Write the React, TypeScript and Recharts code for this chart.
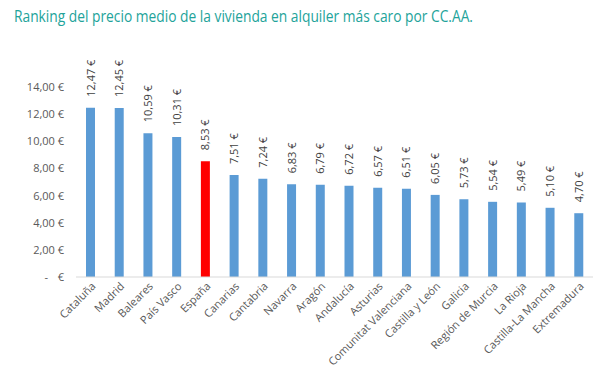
import React from "react";
import { BarChart, Bar, XAxis, YAxis, Cell, LabelList } from "recharts";

const regions = [
  "Cataluña", "Madrid", "Baleares", "País Vasco", "España", "Canarias", "Cantabria",
  "Navarra", "Aragón", "Andalucía", "Asturias", "Comunitat Valenciana", "Castilla y León",
  "Galicia", "Región de Murcia", "La Rioja", "Castilla-La Mancha", "Extremadura",
];
const prices = [12.47, 12.45, 10.59, 10.31, 8.53, 7.51, 7.24, 6.83, 6.79, 6.72, 6.57, 6.51, 6.05, 5.73, 5.54, 5.49, 5.1, 4.7];
const highlight = "España";
const yTicks = [0, 2, 4, 6, 8, 10, 12, 14];
const title = "Ranking del precio medio de la vivienda en alquiler más caro por CC.AA.";

const data = regions.map((r, i) => ({ name: r, value: prices[i] }));

const fmt = (v: number) => v.toFixed(2).replace(".", ",") + " €";
const FONT = "'Open Sans', sans-serif";

const YTick = (props: any) => {
  const { x, y, payload } = props;
  if (payload.value === 0) {
    return (
      <g>
        <text x={x - 16} y={y + 4} textAnchor="end" fontSize={11} fill="#595959" fontFamily={FONT}>-</text>
        <text x={x} y={y + 4} textAnchor="end" fontSize={11} fill="#595959" fontFamily={FONT}>€</text>
      </g>
    );
  }
  return (
    <text x={x} y={y + 4} textAnchor="end" fontSize={11} fill="#595959" fontFamily={FONT}>
      {fmt(payload.value)}
    </text>
  );
};

const XTick = (props: any) => {
  const { x, y, payload } = props;
  return (
    <g transform={`translate(${x + 6},${y + 2})`}>
      <text transform="rotate(-45)" textAnchor="end" fontSize={11} fill="#595959" fontFamily={FONT}>
        {payload.value}
      </text>
    </g>
  );
};

const ValueLabel = (props: any) => {
  const { x, y, width, value } = props;
  const cx = x + width / 2 + 4;
  const cy = y - 11;
  return (
    <g transform={`translate(${cx},${cy})`}>
      <text transform="rotate(-90)" textAnchor="start" fontSize={11} fill="#404040" fontFamily={FONT}>
        {fmt(value)}
      </text>
    </g>
  );
};

export default function App() {
  return (
    <div style={{ position: "absolute", left: 0, top: 0, width: 607, height: 377, background: "#fff" }}>
      <svg width={607} height={30} style={{ position: "absolute", left: 0, top: 0 }}>
        <text x={14} y={22} fontSize={16} fill="#22a39a" fontFamily={FONT} textLength={459} lengthAdjust="spacingAndGlyphs">
          {title}
        </text>
      </svg>
      <BarChart
        width={607}
        height={377}
        data={data}
        margin={{ top: 87, right: 14, bottom: 0, left: 0 }}
        barCategoryGap={0}
      >
        <XAxis
          dataKey="name"
          interval={0}
          tickLine={false}
          axisLine={{ stroke: "#d9d9d9" }}
          tick={<XTick />}
          height={100}
        />
        <YAxis
          width={76}
          domain={[0, 14]}
          ticks={yTicks}
          interval={0}
          axisLine={false}
          tickLine={false}
          tick={<YTick />}
          tickMargin={0}
          tickSize={12}
        />
        <Bar dataKey="value" barSize={9} isAnimationActive={false}>
          {data.map((d) => (
            <Cell key={d.name} fill={d.name === highlight ? "#ff0000" : "#5b9bd5"} />
          ))}
          <LabelList dataKey="value" content={<ValueLabel />} />
        </Bar>
      </BarChart>
    </div>
  );
}
